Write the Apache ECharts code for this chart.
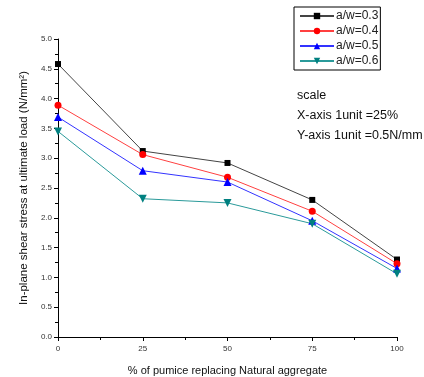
<!DOCTYPE html>
<html>
<head>
<meta charset="utf-8">
<script src="https://cdn.jsdelivr.net/npm/echarts@6/dist/echarts.min.js"></script>
<style>
  html, body { margin: 0; padding: 0; background: #fff; }
  #chart { width: 424px; height: 377px; }
</style>
</head>
<body>
<div id="chart"></div>
<script>
// % pumice replacing natural aggregate
const pumice = [0, 25, 50, 75, 100];
const seriesNames = ['a/w=0.3', 'a/w=0.4', 'a/w=0.5', 'a/w=0.6'];
const aw03 = [4.58, 3.12, 2.92, 2.30, 1.30];
const aw04 = [3.89, 3.06, 2.68, 2.11, 1.23];
const aw05 = [3.69, 2.79, 2.60, 1.95, 1.15];
const aw06 = [3.45, 2.32, 2.25, 1.90, 1.06];
const scaleNotes = ['scale', 'X-axis 1unit =25%', 'Y-axis 1unit =0.5N/mm'];

const chart = echarts.init(document.getElementById('chart'));

const colors = ['#000000', '#ff0000', '#0000ff', '#008080'];
const lineColors = ['#444444', '#ff4040', '#3333ff', '#2a9a9a'];
const symbols = ['rect', 'circle', 'triangle', 'triangle'];
const rotates = [0, 0, 0, 180];
const sizes = [6, 7, 8, 8];
const allData = [aw03, aw04, aw05, aw06];

const series = allData.map((vals, i) => ({
  name: seriesNames[i],
  type: 'line',
  data: pumice.map((x, j) => [x, vals[j]]),
  symbol: symbols[i],
  symbolRotate: rotates[i],
  symbolSize: sizes[i],
  itemStyle: { color: colors[i] },
  lineStyle: { color: lineColors[i], width: 1 },
  animation: false
}));

const labelStyle = { fontFamily: 'Liberation Sans', fontSize: 8, color: '#333' };

chart.setOption({
  animation: false,
  grid: { left: 58, right: 27, top: 39, bottom: 40, outerBoundsMode: 'none', containLabel: false },
  legend: {
    data: seriesNames,
    orient: 'vertical',
    left: 294,
    top: 7,
    padding: [3, 2, 3, 5],
    itemGap: 3,
    itemWidth: 34,
    itemHeight: 8,
    borderColor: '#000',
    borderWidth: 1,
    textStyle: { fontFamily: 'Liberation Sans', fontSize: 12, color: '#222', padding: [0, 0, 0, -3] }
  },
  xAxis: {
    type: 'value',
    min: 0, max: 100, interval: 25,
    name: '% of pumice replacing Natural aggregate',
    nameLocation: 'middle',
    nameGap: 28,
    nameTextStyle: { fontFamily: 'Liberation Sans', fontSize: 11, color: '#111' },
    axisLine: { lineStyle: { color: '#000', width: 1 } },
    axisTick: { show: true, inside: false, length: 4, lineStyle: { color: '#000' } },
    minorTick: { show: true, splitNumber: 2, length: 3, lineStyle: { color: '#000' } },
    axisLabel: Object.assign({ margin: 8 }, labelStyle),
    splitLine: { show: false }
  },
  yAxis: {
    type: 'value',
    min: 0, max: 5, interval: 0.5,
    name: 'In-plane shear stress at ultimate load (N/mm²)',
    nameLocation: 'middle',
    nameGap: 28,
    nameTextStyle: { fontFamily: 'Liberation Sans', fontSize: 11.5, color: '#111' },
    axisLine: { show: true, lineStyle: { color: '#000', width: 1 } },
    axisTick: { show: true, inside: false, length: 4, lineStyle: { color: '#000' } },
    minorTick: { show: true, splitNumber: 2, length: 3, lineStyle: { color: '#000' } },
    axisLabel: Object.assign({ margin: 6, formatter: v => v.toFixed(1) }, labelStyle),
    splitLine: { show: false }
  },
  graphic: scaleNotes.map((t, i) => ({
    type: 'text',
    left: 297,
    top: 89 + i * 20,
    style: { text: t, fontFamily: 'Liberation Sans', fontSize: 12.5, fill: '#111' }
  })),
  series: series
});
</script>
</body>
</html>
